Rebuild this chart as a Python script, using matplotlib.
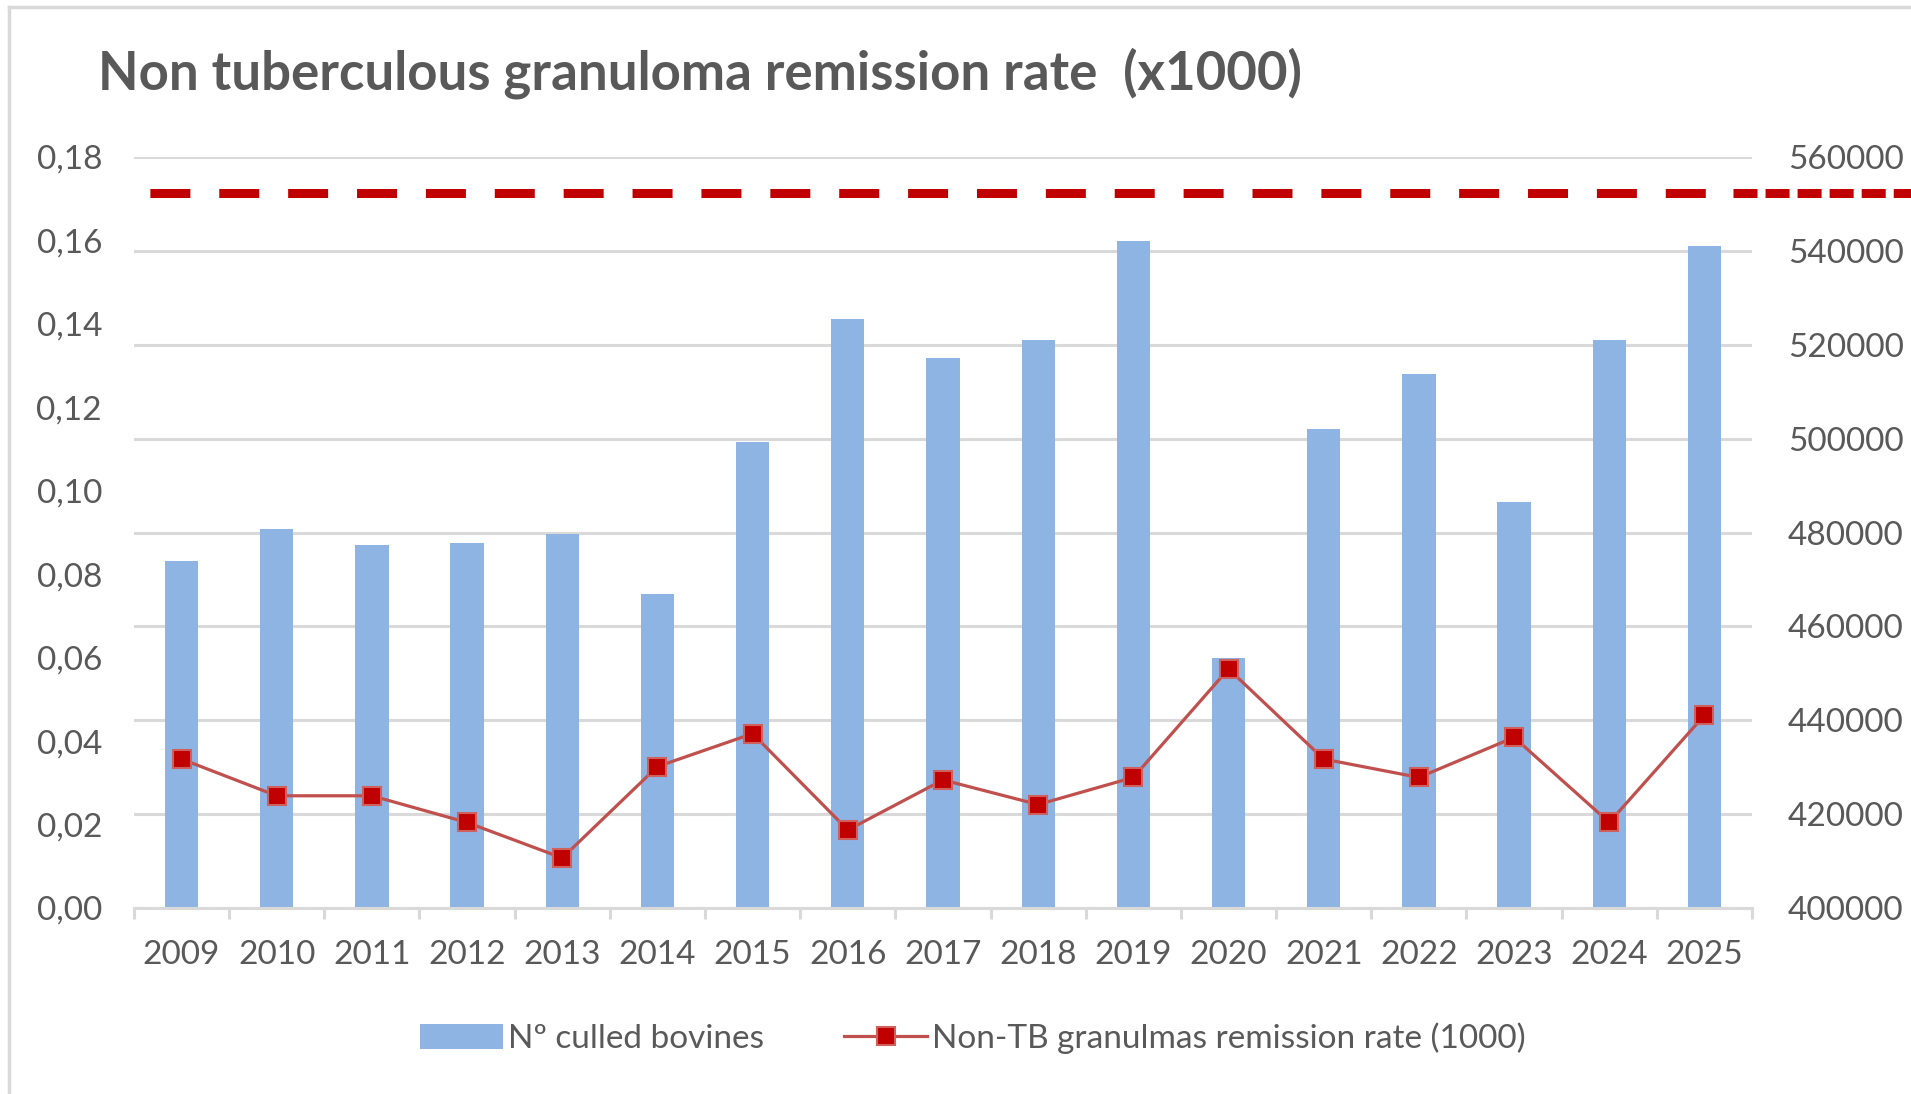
import matplotlib
matplotlib.use('Agg')
import matplotlib.pyplot as plt
import matplotlib.transforms as mtransforms
from matplotlib.lines import Line2D
from matplotlib.patches import Patch
import numpy as np

plt.rcParams['font.family'] = ['Lato', 'DejaVu Sans']

years = ['2009', '2010', '2011', '2012', '2013', '2014', '2015', '2016', '2017',
         '2018', '2019', '2020', '2021', '2022', '2023', '2024', '2025']
culled_bovines = [474000, 480800, 477400, 477700, 479700, 466800, 499200, 525500, 517100,
                  521000, 542100, 453200, 502100, 513800, 486500, 521000, 541000]
remission_rate = [0.0357, 0.0269, 0.0269, 0.0205, 0.0120, 0.0339, 0.0418, 0.0187, 0.0307,
                  0.0248, 0.0313, 0.0573, 0.0357, 0.0313, 0.0409, 0.0205, 0.0462]
threshold = 0.1713

left_ticks = [0.00, 0.02, 0.04, 0.06, 0.08, 0.10, 0.12, 0.14, 0.16, 0.18]
right_ticks = [400000, 420000, 440000, 460000, 480000, 500000, 520000, 540000, 560000]

grey_txt = '#595959'
grid_col = '#d9d9d9'
bar_col = '#8EB4E3'
line_col = '#C0504D'
red = '#C00000'

fig = plt.figure(figsize=(19.11, 10.94), dpi=100)
ax_bar = fig.add_axes([0.0701, 0.170, 0.8467, 0.6865])
ax_line = ax_bar.twinx()

x = np.arange(len(years))

# bars on the right (secondary) scale
ax_bar.bar(x, np.array(culled_bovines) - right_ticks[0], bottom=right_ticks[0],
           width=0.35, color=bar_col, zorder=2)
ax_bar.set_ylim(right_ticks[0], right_ticks[-1])
ax_bar.set_yticks(right_ticks)
ax_bar.set_yticklabels([str(v) for v in right_ticks])
ax_bar.yaxis.tick_right()
ax_bar.yaxis.grid(True, color=grid_col, linewidth=2.2, zorder=0)
ax_bar.set_axisbelow(True)

# rate line on the left scale
ax_line.plot(x, remission_rate, color=line_col, linewidth=2.3, marker='s',
             markersize=13, markerfacecolor=red, markeredgecolor='#D0605D',
             markeredgewidth=1.5, zorder=4)
ax_line.set_ylim(left_ticks[0], left_ticks[-1])
ax_line.set_yticks(left_ticks)
ax_line.set_yticklabels([f'{v:.2f}'.replace('.', ',') for v in left_ticks])
ax_line.yaxis.tick_left()

# threshold dashed line
ax_line.axhline(threshold, color=red, linewidth=6.5, linestyle=(5.87, (4.43, 3.2)),
                dash_capstyle='butt', zorder=3)
trans = mtransforms.blended_transform_factory(ax_line.transAxes, ax_line.transData)
ax_line.plot([0.988, 1.12], [threshold, threshold], transform=trans, clip_on=False,
             color=red, linewidth=6.5, linestyle=(0, (2.66, 0.89)),
             dash_capstyle='butt', zorder=3)

for a in (ax_bar, ax_line):
    for s in a.spines.values():
        s.set_visible(False)
    a.tick_params(axis='y', length=0, labelsize=24, labelcolor=grey_txt)
ax_line.tick_params(axis='y', pad=23)
ax_bar.tick_params(axis='y', pad=26)

ax_bar.spines['bottom'].set_visible(True)
ax_bar.spines['bottom'].set_color(grid_col)
ax_bar.spines['bottom'].set_linewidth(2.2)
ax_bar.set_xlim(-0.5, len(years) - 0.5)
ax_bar.set_xticks(x)
ax_bar.set_xticklabels(years)
ax_bar.set_xticks(np.arange(-0.5, len(years)), minor=True)
ax_bar.tick_params(axis='x', which='major', length=0, pad=23, labelsize=24, labelcolor=grey_txt)
ax_bar.tick_params(axis='x', which='minor', length=8, width=2.2, color=grid_col)
ax_line.tick_params(axis='x', bottom=False, labelbottom=False)

fig.text(98 / 1911, 1 - 73 / 1094, 'Non tuberculous granuloma remission rate  (x1000)',
         fontsize=38, fontweight='bold', color=grey_txt, va='center', ha='left')

handles = [Patch(facecolor=bar_col, edgecolor='none'),
           Line2D([], [], color=line_col, linewidth=2.3, marker='s', markersize=13,
                  markerfacecolor=red, markeredgecolor='#D0605D', markeredgewidth=1.5)]
labels = ['Nº culled bovines', 'Non-TB granulmas remission rate (1000)']
fig.legend(handles, labels, loc='center', bbox_to_anchor=(0.509, 0.051), ncol=2,
           frameon=False, fontsize=24, labelcolor=grey_txt, handlelength=2.5,
           handleheight=0.75, handletextpad=0.15, columnspacing=2.4)

# chart border
fig.add_artist(Line2D([9 / 1911, 9 / 1911], [0, 1 - 7 / 1094], transform=fig.transFigure,
                      color=grid_col, linewidth=2.5))
fig.add_artist(Line2D([9 / 1911, 1], [1 - 7 / 1094, 1 - 7 / 1094], transform=fig.transFigure,
                      color=grid_col, linewidth=2.5))

fig.savefig('out.png', dpi=100)
